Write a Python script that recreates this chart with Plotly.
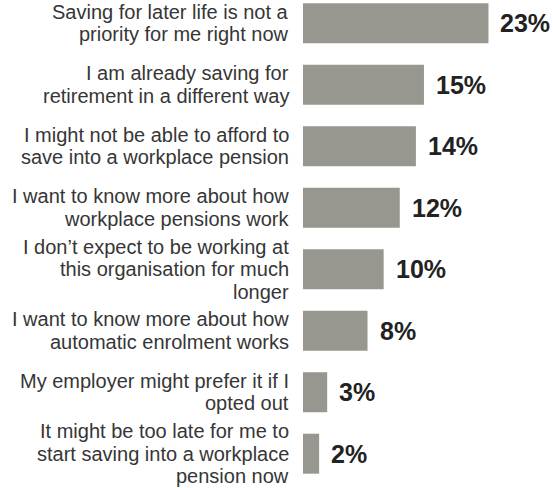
import plotly.graph_objects as go

# Reasons given for opting out of a workplace pension
reasons = [
    "Saving for later life is not a<br>priority for me right now",
    "I am already saving for<br>retirement in a different way",
    "I might not be able to afford to<br>save into a workplace pension",
    "I want to know more about how<br>workplace pensions work",
    "I don\u2019t expect to be working at<br>this organisation for much<br>longer",
    "I want to know more about how<br>automatic enrolment works",
    "My employer might prefer it if I<br>opted out",
    "It might be too late for me to<br>start saving into a workplace<br>pension now",
]
shares = [23, 15, 14, 12, 10, 8, 3, 2]

BAR_COLOR = "#97968f"
LABEL_COLOR = "#363636"
VALUE_COLOR = "#222222"
FONT = "Liberation Sans, Arial, sans-serif"
LABEL_SIZE = 20
LINE_STEP = 22.5  # leading for the wrapped category labels

fig = go.Figure(
    go.Bar(
        x=shares,
        y=reasons,
        orientation="h",
        width=0.65,
        marker=dict(color=BAR_COLOR, line=dict(width=0)),
        hoverinfo="skip",
    )
)

# Category labels, right-aligned to the left of the bars, one line at a time
for reason in reasons:
    lines = reason.split("<br>")
    n = len(lines)
    for i, line in enumerate(lines):
        fig.add_annotation(
            xref="paper",
            x=0,
            y=reason,
            yref="y",
            text=line,
            showarrow=False,
            xanchor="right",
            yanchor="middle",
            borderpad=0,
            xshift=-13,
            yshift=((n - 1) / 2 - i) * LINE_STEP,
            font=dict(family=FONT, size=LABEL_SIZE, color=LABEL_COLOR),
        )

# Bold percentage labels just past the end of each bar
for reason, share in zip(reasons, shares):
    fig.add_annotation(
        x=share,
        y=reason,
        text=f"<b>{share}%</b>",
        showarrow=False,
        xanchor="left",
        yanchor="middle",
        xshift=10,
        font=dict(family=FONT, size=25, color=VALUE_COLOR),
    )

fig.update_layout(
    width=553,
    height=488,
    margin=dict(l=303, r=0, t=0, b=0),
    paper_bgcolor="white",
    plot_bgcolor="white",
    showlegend=False,
    font=dict(family=FONT, size=LABEL_SIZE, color=LABEL_COLOR),
    xaxis=dict(
        range=[0, 31],
        visible=False,
        fixedrange=True,
    ),
    yaxis=dict(
        type="category",
        range=[7.558, -0.377],
        showgrid=False,
        zeroline=False,
        showline=False,
        ticks="",
        showticklabels=False,
        fixedrange=True,
    ),
)

fig.write_html("out.html")
